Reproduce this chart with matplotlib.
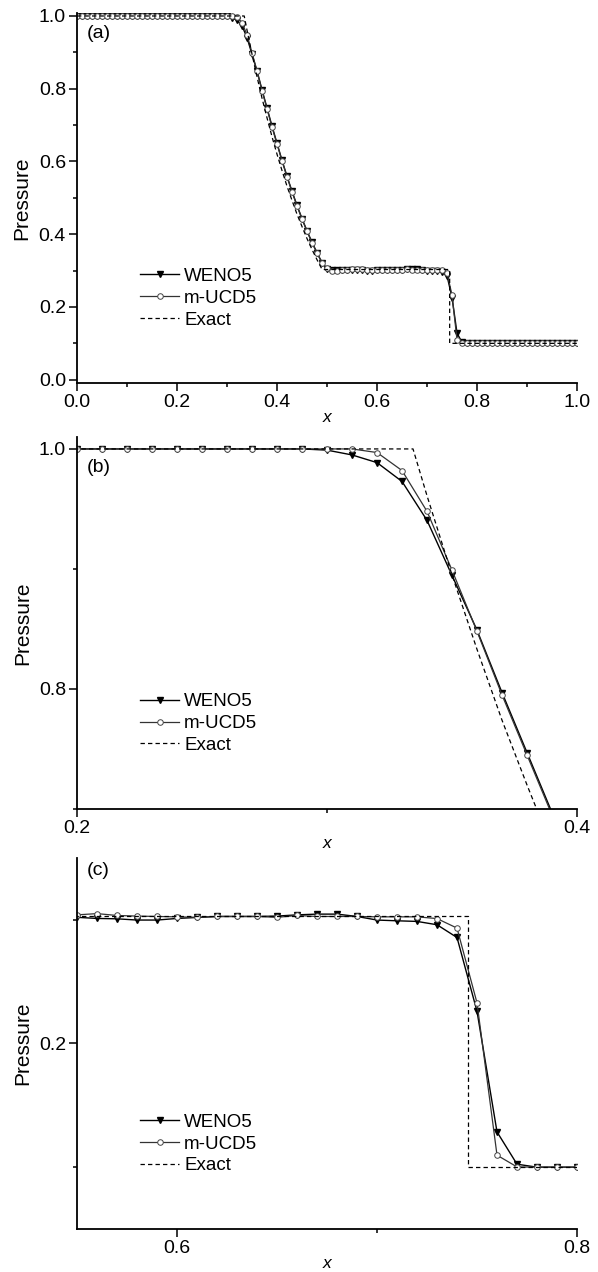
import numpy as np
import matplotlib
matplotlib.use("Agg")
import matplotlib.pyplot as plt
from matplotlib.ticker import MultipleLocator

plt.rcParams['font.family'] = ['Liberation Sans', 'DejaVu Sans']

# grid points, dx = 0.01
x = np.linspace(0.0, 1.0, 101)

# WENO5 pressure
p_weno = [1.0] * 30 + [
    0.999, 0.995, 0.9886, 0.9729, 0.9405, 0.8946, 0.849, 0.797, 0.747, 0.697,
    0.650, 0.603, 0.559, 0.518, 0.479, 0.443, 0.409, 0.378, 0.349, 0.322,
    0.305, 0.301, 0.301, 0.302, 0.302, 0.302, 0.3011, 0.3008, 0.2998, 0.2998,
    0.3011, 0.3019, 0.3027, 0.3027, 0.3027, 0.303, 0.304, 0.3046, 0.3046, 0.3027,
    0.2998, 0.2992, 0.2987, 0.296, 0.2857, 0.2260, 0.1285, 0.1024] + [0.1] * 23

# m-UCD5 pressure
p_ucd = [1.0] * 32 + [
    0.997, 0.982, 0.948, 0.899, 0.848, 0.795, 0.745, 0.695,
    0.648, 0.602, 0.558, 0.517, 0.478, 0.442, 0.408, 0.377, 0.348, 0.322,
    0.306, 0.298, 0.299, 0.302, 0.303, 0.304, 0.305, 0.3035, 0.303, 0.3027,
    0.3024, 0.302, 0.3027, 0.3027, 0.3027, 0.302, 0.3035, 0.3027, 0.3027, 0.3027,
    0.3024, 0.3024, 0.3024, 0.301, 0.2933, 0.2328, 0.1097, 0.1002] + [0.1] * 23

# exact solution (rarefaction fan, plateau, shock)
x_exact = [0.0, 0.3344, 0.34, 0.35, 0.36, 0.37, 0.38, 0.39, 0.40, 0.41, 0.42,
           0.43, 0.44, 0.45, 0.46, 0.47, 0.48, 0.4902, 0.7453, 0.7453, 1.0]
p_exact = [1.0, 1.0, 0.961, 0.895, 0.833, 0.774, 0.720, 0.668, 0.620, 0.575, 0.532,
           0.493, 0.455, 0.421, 0.388, 0.358, 0.330, 0.303, 0.303, 0.1, 0.1]

panels = [
    dict(tag='(a)', tag_y=0.945, pos=[0.1288, 0.6989, 0.8361, 0.2911],
         xlim=(0.0, 1.0), ylim=(-0.009, 1.009)),
    dict(tag='(b)', tag_y=0.919, pos=[0.1288, 0.3640, 0.8361, 0.2925],
         xlim=(0.2, 0.4), ylim=(0.7, 1.01)),
    dict(tag='(c)', tag_y=0.965, pos=[0.1288, 0.0338, 0.8361, 0.2917],
         xlim=(0.55, 0.8), ylim=(0.05, 0.35)),
]

fig = plt.figure(figsize=(5.98, 12.72), dpi=100)
for pn in panels:
    ax = fig.add_axes(pn['pos'])
    ax.plot(x, p_weno, '-', color='black', lw=1.0, marker='v', ms=4,
            mfc='black', mec='black', label='WENO5')
    ax.plot(x, p_ucd, '-', color='#333333', lw=0.9, marker='o', ms=4,
            mfc='white', mec='#444444', mew=0.7, label='m-UCD5')
    ax.plot(x_exact, p_exact, '--', color='black', lw=0.9, dashes=(3.5, 2.5),
            label='Exact')
    ax.set_xlim(*pn['xlim'])
    ax.set_ylim(*pn['ylim'])
    for s in ['top', 'right']:
        ax.spines[s].set_visible(False)
    for s in ['left', 'bottom']:
        ax.spines[s].set_linewidth(1.3)
    ax.xaxis.set_major_locator(MultipleLocator(0.2))
    ax.xaxis.set_minor_locator(MultipleLocator(0.1))
    ax.yaxis.set_major_locator(MultipleLocator(0.2))
    ax.yaxis.set_minor_locator(MultipleLocator(0.1))
    ax.xaxis.set_major_formatter(lambda v, _: f'{v:.1f}')
    ax.yaxis.set_major_formatter(lambda v, _: f'{v:.1f}')
    ax.tick_params(which='major', direction='out', length=6, width=1.1,
                   labelsize=14, pad=2)
    ax.tick_params(which='minor', direction='out', length=3, width=1.1)
    ax.set_xlabel('x', fontstyle='italic', fontsize=12.5, labelpad=-1)
    ax.set_ylabel('Pressure', fontsize=15, labelpad=5)
    ax.text(0.02, pn['tag_y'], pn['tag'], transform=ax.transAxes, fontsize=14,
            va='center', ha='left')
    ax.legend(loc='upper left', bbox_to_anchor=(0.126, 0.311), frameon=False,
              fontsize=13.5, handlelength=2.1, handletextpad=0.25,
              labelspacing=0.25, borderaxespad=0, borderpad=0)

fig.savefig('out.png', dpi=100)
